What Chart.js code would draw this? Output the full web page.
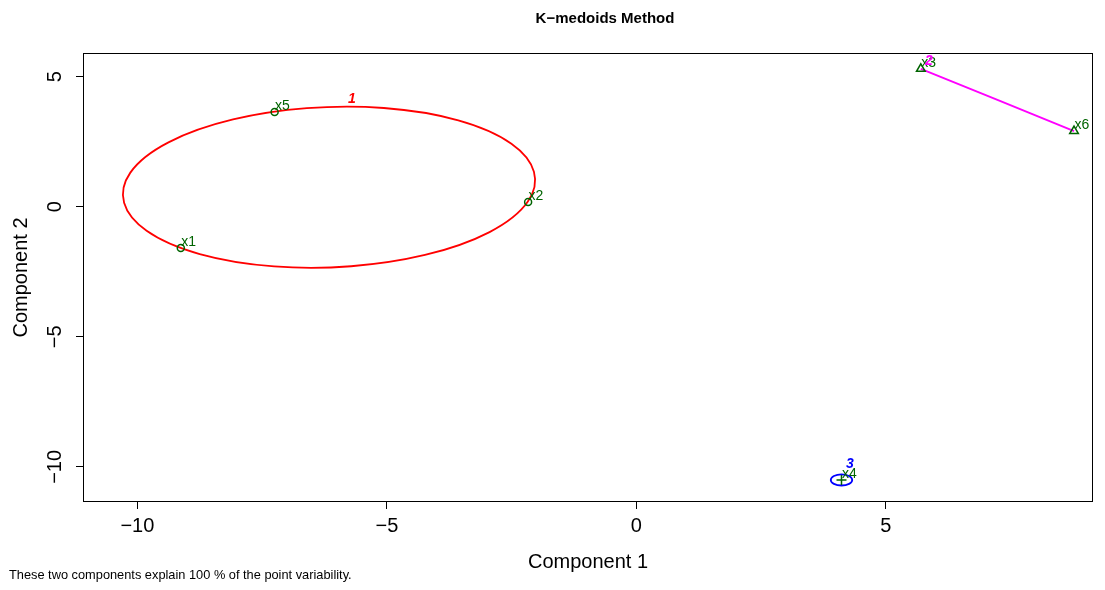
<!DOCTYPE html>
<html lang="en">
<head>
  <meta charset="UTF-8">
  <title>K-medoids Method</title>
  <script src="https://cdn.jsdelivr.net/npm/chart.js"></script>
  <style>
    body { margin: 0; background: #fff; }
    canvas { display: block; }
  </style>
</head>
<body>
  <canvas id="clusChart" width="1105" height="590"></canvas>

  <script>
    // observations, scores on the two components
    const pointNames = ['x1', 'x2', 'x3', 'x4', 'x5', 'x6'];
    const comp1 = [-9.13, -2.17, 5.70, 4.11, -7.25, 8.77];
    const comp2 = [-1.59, 0.18, 5.30, -10.50, 3.64, 2.91];
    const clusterOf = [1, 1, 2, 3, 1, 2];

    // clusters: ellipse centre, semi axes and angle (deg) in data units
    const clusterIds = ['1', '2', '3'];
    const clusterColors = ['#ff0000', '#ff00ff', '#0000ff'];
    const clusterMarkers = ['circle', 'triangle', 'cross'];
    const ellCx = [-6.16, 7.235, 4.11];
    const ellCy = [0.75, 4.105, -10.50];
    const ellA = [4.15, 1.946, 0.215];
    const ellB = [3.07, 0, 0.215];
    const ellAngle = [8.3, -37.9, 0];
    const clusLabelX = [-5.70, 5.86, 4.28];
    const clusLabelY = [4.14, 5.61, -9.90];

    // axes
    const xRange = [-11.09, 9.15];
    const yRange = [-11.35, 5.91];
    const xTickVals = [-10, -5, 0, 5];
    const yTickVals = [-10, -5, 0, 5];

    const FONT = "'Liberation Sans', Arial, Helvetica, sans-serif";
    const pointColor = '#006400';
    Chart.defaults.font.family = FONT;

    const fmt = v => v < 0 ? '\u2212' + Math.abs(v) : String(v);

    const datasets = clusterIds.map((id, k) => ({
      label: 'cluster ' + id,
      data: comp1.map((x, i) => ({ x: x, y: comp2[i] })).filter((p, i) => clusterOf[i] === k + 1),
      pointStyle: clusterMarkers[k],
      pointRadius: k === 0 ? 3.5 : 5,
      pointBorderColor: pointColor,
      pointBackgroundColor: 'rgba(0,0,0,0)',
      pointBorderWidth: 1.5,
      showLine: false
    }));

    const clusplotPlugin = {
      id: 'clusplot',
      beforeDatasetsDraw(chart) {
        const ctx = chart.ctx;
        const xs = chart.scales.x, ys = chart.scales.y;
        const sx = xs.getPixelForValue(1) - xs.getPixelForValue(0);
        const sy = ys.getPixelForValue(0) - ys.getPixelForValue(1);
        ctx.save();
        ctx.beginPath();
        ctx.rect(chart.chartArea.left, chart.chartArea.top, chart.chartArea.width, chart.chartArea.height);
        ctx.clip();
        clusterIds.forEach((id, k) => {
          ctx.save();
          ctx.translate(xs.getPixelForValue(ellCx[k]), ys.getPixelForValue(ellCy[k]));
          ctx.scale(sx, -sy);
          ctx.rotate(ellAngle[k] * Math.PI / 180);
          ctx.beginPath();
          ctx.ellipse(0, 0, ellA[k], ellB[k], 0, 0, Math.PI * 2);
          ctx.restore();
          ctx.strokeStyle = clusterColors[k];
          ctx.lineWidth = 1.8;
          ctx.stroke();
        });
        ctx.restore();
      },
      afterDatasetsDraw(chart) {
        const ctx = chart.ctx;
        const xs = chart.scales.x, ys = chart.scales.y;
        const a = chart.chartArea;
        ctx.save();

        // point labels
        ctx.fillStyle = pointColor;
        ctx.font = '14px ' + FONT;
        ctx.textAlign = 'left';
        ctx.textBaseline = 'alphabetic';
        pointNames.forEach((n, i) => {
          ctx.fillText(n, xs.getPixelForValue(comp1[i]) + 0.5, ys.getPixelForValue(comp2[i]) - 2);
        });

        // cluster labels
        ctx.font = 'italic bold 14px ' + FONT;
        ctx.textAlign = 'center';
        ctx.textBaseline = 'middle';
        clusterIds.forEach((id, k) => {
          ctx.fillStyle = clusterColors[k];
          ctx.fillText(id, xs.getPixelForValue(clusLabelX[k]), ys.getPixelForValue(clusLabelY[k]));
        });

        // box
        ctx.strokeStyle = '#000';
        ctx.lineWidth = 1;
        ctx.strokeRect(Math.round(a.left) + 0.5, Math.round(a.top) + 0.5,
          Math.round(a.width) - 1, Math.round(a.height) - 1);

        // y tick labels, parallel to the axis
        ctx.fillStyle = '#000';
        ctx.font = '20px ' + FONT;
        ys.ticks.forEach(t => {
          ctx.save();
          ctx.translate(55, ys.getPixelForValue(t.value));
          ctx.rotate(-Math.PI / 2);
          ctx.textAlign = 'center';
          ctx.textBaseline = 'middle';
          ctx.fillText(fmt(t.value), 0, 0);
          ctx.restore();
        });

        // axis titles
        ctx.textAlign = 'center';
        ctx.textBaseline = 'middle';
        ctx.fillText('Component 1', (a.left + a.right) / 2, 562);
        ctx.save();
        ctx.translate(21, (a.top + a.bottom) / 2);
        ctx.rotate(-Math.PI / 2);
        ctx.fillText('Component 2', 0, 0);
        ctx.restore();

        // main title
        ctx.font = 'bold 15px ' + FONT;
        ctx.fillText('K\u2212medoids Method', 605, 19);

        // footer
        ctx.font = '12.8px ' + FONT;
        ctx.textAlign = 'left';
        ctx.fillText('These two components explain 100 % of the point variability.', 9, 575);
        ctx.restore();
      }
    };

    new Chart(document.getElementById('clusChart').getContext('2d'), {
      type: 'scatter',
      data: { datasets: datasets },
      plugins: [clusplotPlugin],
      options: {
        responsive: false,
        animation: false,
        layout: { padding: { left: 0, top: 53, right: 12, bottom: 0 } },
        plugins: {
          legend: { display: false },
          tooltip: { enabled: false },
          title: { display: false }
        },
        scales: {
          x: {
            type: 'linear',
            min: xRange[0],
            max: xRange[1],
            afterFit: s => { s.height = 88; },
            afterBuildTicks: s => { s.ticks = xTickVals.map(v => ({ value: v })); },
            grid: { display: true, drawOnChartArea: false, color: '#000', tickLength: 7 },
            border: { display: false },
            ticks: { color: '#000', font: { size: 20 }, padding: 5, maxRotation: 0, callback: v => fmt(v) }
          },
          y: {
            type: 'linear',
            min: yRange[0],
            max: yRange[1],
            afterFit: s => { s.width = 83; },
            afterBuildTicks: s => { s.ticks = yTickVals.map(v => ({ value: v })); },
            grid: { display: true, drawOnChartArea: false, color: '#000', tickLength: 7 },
            border: { display: false },
            ticks: { color: 'rgba(0,0,0,0)', font: { size: 20 }, callback: v => fmt(v) }
          }
        }
      }
    });
  </script>
</body>
</html>
